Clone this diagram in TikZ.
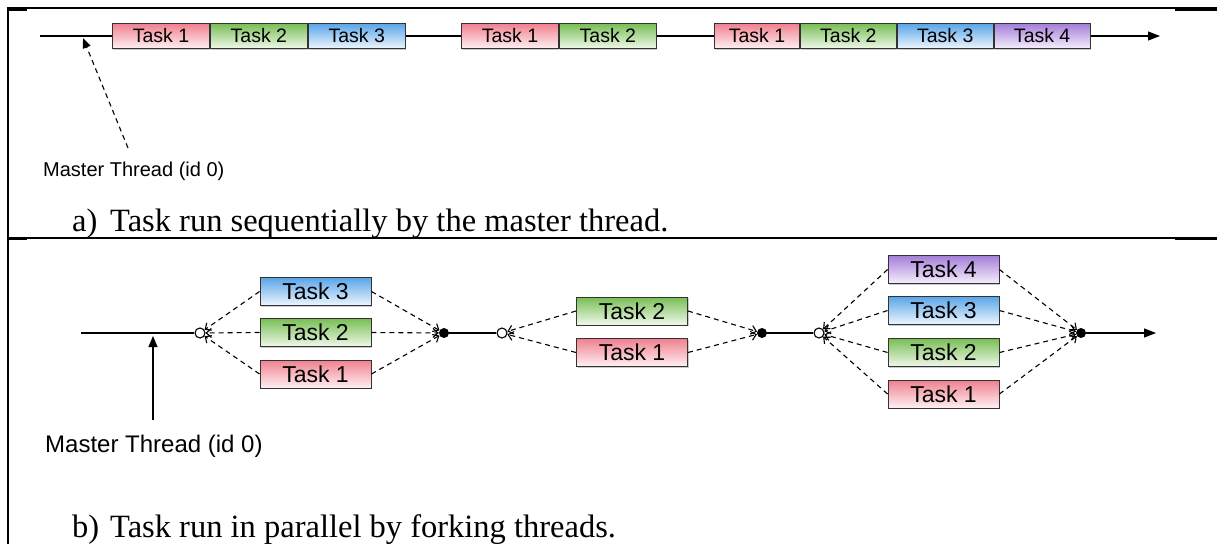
\documentclass[tikz,border=0pt]{standalone}
\usepackage{fontspec}
\setmainfont{Liberation Serif}
\newfontfamily\labelfont{Liberation Sans}
\usetikzlibrary{arrows.meta,shadows}
\definecolor{redT}{HTML}{F0808F}
\definecolor{redB}{HTML}{FFF0F2}
\definecolor{greenT}{HTML}{78BE55}
\definecolor{greenB}{HTML}{F0F8EA}
\definecolor{blueT}{HTML}{5AA5E8}
\definecolor{blueB}{HTML}{EEF6FE}
\definecolor{purpT}{HTML}{A47ED8}
\definecolor{purpB}{HTML}{F5EFFC}
\definecolor{boxline}{HTML}{333333}
\tikzset{
  taskbase/.style={draw=boxline, line width=0.9pt, inner sep=0pt,
    drop shadow={shadow xshift=1pt, shadow yshift=-1pt, fill=black!35, opacity=0.6}},
  topbox/.style={taskbase, minimum height=25pt, minimum width=97pt, anchor=west,
    font=\labelfont\fontsize{19.5}{21}\selectfont},
  botbox/.style={taskbase, minimum height=28pt, minimum width=111pt,
    font=\labelfont\fontsize{23}{25}\selectfont},
  tred/.style={top color=redT, bottom color=redB},
  tgreen/.style={top color=greenT, bottom color=greenB},
  tblue/.style={top color=blueT, bottom color=blueB},
  tpurp/.style={top color=purpT, bottom color=purpB},
  mainline/.style={line width=1.2pt},
  endarrow/.style={mainline, -{Triangle[length=12pt,width=9pt]}},
  dashconn/.style={line width=1.1pt, dash pattern=on 5pt off 4pt, -{Straight Barb[length=5pt,width=9pt]}},
  forkc/.style={circle, draw, line width=1.1pt, fill=white, minimum size=10pt, inner sep=0pt},
  joinc/.style={circle, fill=black, minimum size=10pt, inner sep=0pt},
  framel/.style={line width=1.3pt},
  framet/.style={line width=2.2pt},
  mlabel/.style={anchor=base west, inner sep=0pt, font=\labelfont},
  caption/.style={anchor=base west, inner sep=0pt, font=\fontsize{32.5}{36}\selectfont}
}
\begin{document}
\begin{tikzpicture}[x=1pt,y=-1pt]
\useasboundingbox (0,0) rectangle (1217,544);
% frame
\draw[framel] (1217,8) -- (8,8) -- (8,544);
\draw[framel] (8,238) -- (1217,238);
\draw[framet] (8,9.5) -- (27,9.5);
\draw[framet] (1175,9.5) -- (1217,9.5);
\draw[framet] (8,239) -- (27,239);
\draw[framet] (1175,239) -- (1217,239);

% ---------- a) sequential ----------
\coordinate (s0) at (40,36);
\node[topbox,tred] (a11) at (112,36) {Task 1};
\node[topbox,tgreen] (a12) at (a11.east) {Task 2};
\node[topbox,tblue] (a13) at (a12.east) {Task 3};
\node[topbox,tred] (a21) at (461,36) {Task 1};
\node[topbox,tgreen] (a22) at (a21.east) {Task 2};
\node[topbox,tred,minimum width=85pt] (a31) at (714,36) {Task 1};
\node[topbox,tgreen,minimum width=96pt] (a32) at (a31.east) {Task 2};
\node[topbox,tblue,minimum width=96pt] (a33) at (a32.east) {Task 3};
\node[topbox,tpurp,minimum width=96pt] (a34) at (a33.east) {Task 4};
\coordinate (send) at (1160,36);
\draw[mainline] (s0) -- (a11.west);
\draw[mainline] (a13.east) -- (a21.west);
\draw[mainline] (a22.east) -- (a31.west);
\draw[endarrow] (a34.east) -- (send);

\coordinate (m1s) at (128,148);
\coordinate (m1t) at (83,38);
\draw[line width=1.1pt, dash pattern=on 5pt off 4pt, -{Triangle[length=10pt,width=8pt]}] (m1s) -- (m1t);
\node[mlabel, font=\labelfont\fontsize{20}{22}\selectfont] (ml1) at (43,176) {Master Thread (id 0)};

\node[caption] (capa) at (72,231) {\makebox[38pt][l]{a)}Task run sequentially by the master thread.};

% ---------- b) parallel ----------
\coordinate (b0) at (81,333);
\node[forkc] (f1) at (200,333) {};
\node[joinc] (j1) at (444,333) {};
\node[botbox,tblue] (b13) at (315.5,291.5) {Task 3};
\node[botbox,tgreen] (b12) at (315.5,332.5) {Task 2};
\node[botbox,tred] (b11) at (315.5,374) {Task 1};

\node[forkc] (f2) at (502,333) {};
\node[joinc] (j2) at (762,333) {};
\node[botbox,tgreen] (b22) at (632,311) {Task 2};
\node[botbox,tred] (b21) at (632,352.5) {Task 1};

\node[forkc] (f3) at (819,333) {};
\node[joinc] (j3) at (1081,333) {};
\node[botbox,tpurp] (b34) at (943.5,269.5) {Task 4};
\node[botbox,tblue] (b33) at (943.5,310.5) {Task 3};
\node[botbox,tgreen] (b32) at (943.5,352.5) {Task 2};
\node[botbox,tred] (b31) at (943.5,394) {Task 1};
\coordinate (bend) at (1156,333);

\draw[mainline] (b0) -- (f1);
\draw[mainline] (j1) -- (f2);
\draw[mainline] (j2) -- (f3);
\draw[endarrow] (j3) -- (bend);

\foreach \b in {b11,b12,b13} {
  \draw[dashconn] (\b.west) -- (f1);
  \draw[dashconn] (\b.east) -- (j1);
}
\foreach \b in {b21,b22} {
  \draw[dashconn] (\b.west) -- (f2);
  \draw[dashconn] (\b.east) -- (j2);
}
\foreach \b in {b31,b32,b33,b34} {
  \draw[dashconn] (\b.west) -- (f3);
  \draw[dashconn] (\b.east) -- (j3);
}

\coordinate (m2s) at (153,420);
\coordinate (m2t) at (153,336);
\draw[line width=1.2pt, -{Triangle[length=11pt,width=9pt]}] (m2s) -- (m2t);
\node[mlabel, font=\labelfont\fontsize{24}{26}\selectfont] (ml2) at (45,452) {Master Thread (id 0)};

\node[caption] (capb) at (72,537) {\makebox[38pt][l]{b)}Task run in parallel by forking threads.};
\end{tikzpicture}
\end{document}
